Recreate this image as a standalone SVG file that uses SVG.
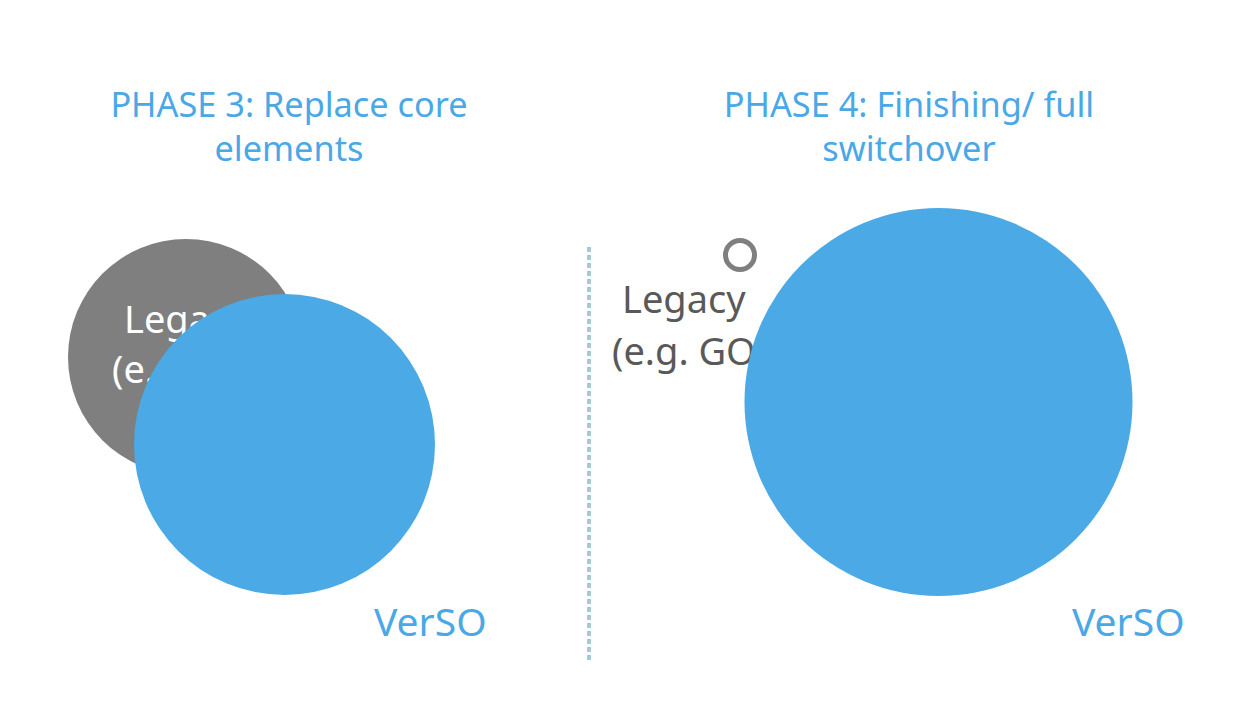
<svg xmlns="http://www.w3.org/2000/svg" width="1236" height="716" viewBox="0 0 1236 716">
<style>
text{font-family:"Noto Sans","Open Sans","Liberation Sans",sans-serif}
.title{font-size:34.3px;fill:#4aa8e6;text-anchor:middle}
.verso{font-size:39px;fill:#4aa8e6}
.legw{font-size:38px;fill:#ffffff}
.legg{font-size:38px;fill:#595959}
.blue{fill:#4ba9e6}
</style>
<rect width="1236" height="716" fill="#ffffff"/>
<g id="title3"><text class="title" x="289" y="117">PHASE 3: Replace core</text><text class="title" x="289" y="161">elements</text></g>
<g id="title4"><text class="title" x="909" y="117">PHASE 4: Finishing/ full</text><text class="title" x="909" y="161">switchover</text></g>
<g id="legacy3"><circle cx="186" cy="357" r="118" fill="#7f7f7f"/><text class="legw" x="124" y="333">Legacy</text><text class="legw" x="112" y="383">(e.g. GO</text></g>
<g id="verso3"><circle class="blue" cx="284.5" cy="444.5" r="150.5"/><text class="verso" x="374" y="636">VerSO</text></g>
<g id="divider"><line x1="589" y1="247" x2="589" y2="662" stroke="#a9c8d6" stroke-width="4" stroke-dasharray="5 3"/></g>
<g id="legacy4"><circle cx="740" cy="255" r="14.5" fill="none" stroke="#7f7f7f" stroke-width="5"/><text class="legg" x="622" y="313">Legacy</text><text class="legg" x="612" y="365">(e.g. GO</text></g>
<g id="verso4"><circle class="blue" cx="938.5" cy="402" r="194"/><text class="verso" x="1072" y="636">VerSO</text></g>
<g id="connectors"/>
</svg>
